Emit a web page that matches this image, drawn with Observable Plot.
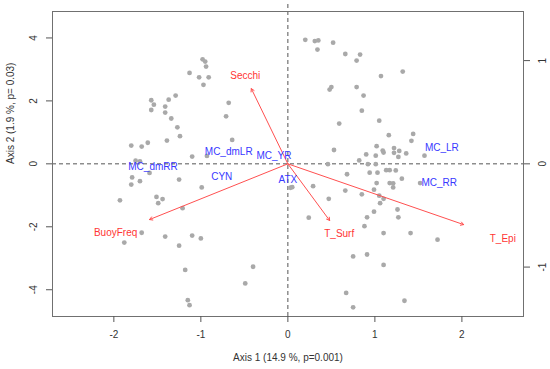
<!DOCTYPE html>
<html><head><meta charset="utf-8">
<script src="https://cdn.jsdelivr.net/npm/d3@7"></script>
<script src="https://cdn.jsdelivr.net/npm/@observablehq/plot@0.6"></script>
<style>body{margin:0;background:#fff}#chart{width:550px;height:369px}</style>
</head><body><div id="chart"></div>
<script>
// Site scores (Axis 1, Axis 2)
const siteX = [-0.98,-0.95,-0.94,-1.13,-1.02,-0.91,-0.97,-0.68,-0.71,-0.64,
  -1.57,-1.54,-1.57,-1.37,-1.29,-1.41,-1.41,-1.34,-1.27,-1.24,
  -1.39,-1.80,-1.68,-1.61,-1.75,-1.70,-1.59,-1.10,-0.93,-1.79,
  -1.80,-1.70,-1.25,-0.99,-1.93,-1.51,-1.49,-1.44,-1.21,-1.68,
  -1.88,-1.41,-1.10,-1.00,-1.25,-1.18,-0.40,-0.49,-1.15,-1.13,
  0.03,0.05,0.20,0.31,0.35,0.34,0.52,0.66,0.83,0.79,
  1.07,1.32,0.50,0.48,0.79,0.87,0.85,0.59,1.05,1.16,
  1.44,1.42,0.53,1.02,1.09,1.10,1.22,1.28,1.22,1.27,
  1.36,1.57,0.90,1.01,0.82,0.46,0.92,1.01,0.68,0.94,
  1.03,1.13,1.17,1.24,1.31,0.29,0.66,0.85,0.99,1.02,
  1.17,1.21,1.21,1.05,1.10,1.06,0.47,1.52,0.24,1.26,
  0.99,0.91,1.27,0.88,1.10,1.41,1.72,0.75,0.91,1.10,
  0.67,0.75,1.34];
const siteY = [3.32,3.25,3.09,2.89,2.75,2.75,2.51,1.94,1.51,0.76,
  2.02,1.88,1.71,2.04,2.17,1.82,1.63,1.44,1.16,0.88,
  0.74,0.58,0.55,0.67,0.10,0.08,-0.29,0.23,0.25,-0.43,
  -0.66,-0.55,-0.50,-0.75,-1.16,-1.05,-1.25,-1.12,-1.41,-2.19,
  -2.50,-2.31,-2.28,-2.37,-2.60,-3.37,-3.27,-3.80,-4.33,-4.49,
  -0.76,-0.74,3.94,3.90,3.92,3.63,3.85,3.49,3.47,3.28,
  2.79,2.93,2.44,2.36,2.44,2.17,1.69,1.28,1.37,0.91,
  0.95,0.73,0.44,0.56,0.42,0.36,0.50,0.41,0.35,0.22,
  0.33,0.26,0.30,0.26,0.11,-0.01,-0.01,-0.01,-0.33,-0.28,
  -0.28,-0.20,-0.20,-0.21,-0.47,-0.71,-0.85,-0.97,-0.82,-0.61,
  -0.61,-0.62,-0.75,-1.01,-1.11,-1.25,-1.11,-0.61,-1.71,-1.45,
  -1.52,-1.70,-1.70,-1.98,-2.20,-2.20,-2.41,-2.94,-2.88,-3.21,
  -4.10,-4.56,-4.35];

// Environmental vectors (tips, in Axis 1/Axis 2 units) and label positions
const envNames = ["Secchi","BuoyFreq","T_Surf","T_Epi"];
const envX = [-0.42,-1.59,0.48,2.02];
const envY = [2.39,-1.77,-1.80,-1.93];
const envLabelX = [-0.49,-1.98,0.59,2.47];
const envLabelY = [2.80,-2.18,-2.21,-2.37];

// Toxin / species labels
const spNames = ["MC_dmLR","MC_YR","MC_dmRR","CYN","ATX","MC_LR","MC_RR"];
const spX = [-0.68,-0.16,-1.55,-0.76,0.00,1.77,1.74];
const spY = [0.39,0.26,-0.09,-0.40,-0.50,0.52,-0.59];

// Axes
const xTicks = [-2,-1,0,1,2];
const yTicks = [-4,-2,0,2,4];
const rightTicks = [-1,0,1];
const rightScale = 3.28; // right-axis unit in left-axis units
const xTitle = "Axis 1 (14.9 %, p=0.001)";
const yTitle = "Axis 2 (1.9 %, p= 0.03)";

const sites = siteX.map((x,i)=>({x, y: siteY[i]}));
const env = envNames.map((n,i)=>({n, x: envX[i], y: envY[i], lx: envLabelX[i], ly: envLabelY[i]}));
const sp = spNames.map((n,i)=>({n, x: spX[i], y: spY[i]}));

const chart = Plot.plot({
  width: 550, height: 369,
  marginLeft: 52, marginRight: 27, marginTop: 11, marginBottom: 53,
  x: {domain: [-2.705, 2.708]},
  y: {domain: [-4.85, 4.84]},
  style: {fontFamily: "'Liberation Sans', Arial, sans-serif", fontSize: "10px", background: "#fff", color: "#333"},
  marks: [
    Plot.ruleY([0], {stroke: "#555", strokeDasharray: "4,3"}),
    Plot.ruleX([0], {stroke: "#555", strokeDasharray: "4,3", insetTop: -7}),
    Plot.dot(sites, {x: "x", y: "y", r: 2.4, fill: "#a9a9a9", stroke: null}),
    Plot.arrow(env, {x1: () => 0, y1: () => 0, x2: "x", y2: "y", stroke: "#ff5050", strokeWidth: 1, headLength: 5}),
    Plot.text(env, {x: "lx", y: "ly", text: "n", fill: "#ff3535", fontSize: 10}),
    Plot.text(sp, {x: "x", y: "y", text: "n", fill: "#3838ff", fontSize: 10}),
    Plot.frame({stroke: "#707070"}),
    Plot.axisX(xTicks, {tickSize: 6, tickPadding: 8, label: null, stroke: "#555", tickFormat: d => String(d)}),
    Plot.axisY(yTicks, {anchor: "left", tickSize: 6, tickRotate: -90, lineAnchor: "middle", tickPadding: 13, label: null, stroke: "#555", tickFormat: d => String(d)}),
    Plot.axisY(rightTicks.map(v => v * rightScale), {anchor: "right", tickSize: 6, tickRotate: -90, lineAnchor: "middle", tickPadding: 13, label: null, stroke: "#555", tickFormat: d => String(Math.round(d / rightScale))}),
    Plot.text([xTitle], {frameAnchor: "bottom", dy: 44, text: d => d}),
    Plot.text([yTitle], {frameAnchor: "left", dx: -42, rotate: -90, text: d => d})
  ]
});
document.getElementById("chart").append(chart);
</script>
</body></html>
